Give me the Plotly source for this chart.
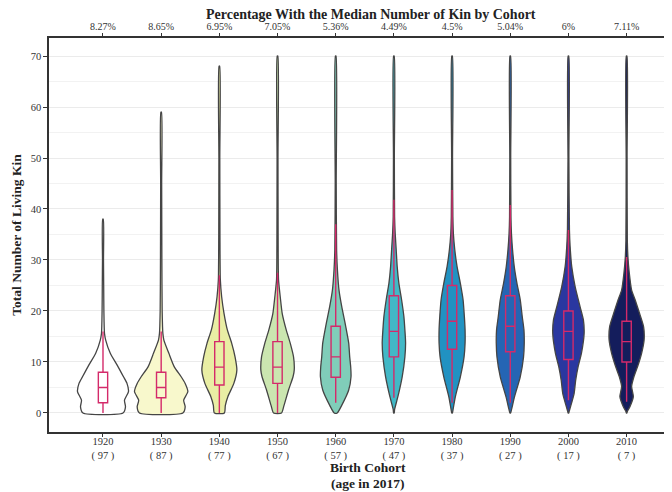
import plotly.graph_objects as go

# ---------------- data ----------------
cohorts = ["1920", "1930", "1940", "1950", "1960", "1970", "1980", "1990", "2000", "2010"]
ages = ["97", "87", "77", "67", "57", "47", "37", "27", "17", "7"]
pct_median = ["8.27%", "8.65%", "6.95%", "7.05%", "5.36%", "4.49%", "4.5%", "5.04%", "6%", "7.11%"]

# box statistics (number of living kin)
q1 = [2, 3, 5.5, 5.8, 7, 11, 12.5, 12, 10.5, 10]
median = [5, 5, 9, 9, 11, 16, 18, 17, 16, 14]
q3 = [8, 8, 14, 14, 17, 23, 25, 23, 20, 18]
lower_w = [0, 0, 0, 0, 2, 3, 2, 2, 2.5, 2.2]
upper_w = [16, 16, 27, 27.5, 37, 41.8, 43.7, 40.8, 35.9, 30.6]

# violin density profiles: kin levels and relative density (half width)
dens_y_1920 = [0, 1.2, 2.5, 4.2, 5.8, 7.1, 9.1, 11.7, 14.3, 15.6, 20, 25, 30, 38]
dens_w_1920 = [20, 22.5, 21.5, 25.5, 24, 20.5, 15, 7.3, 2.7, 1.5, 0.9, 0.7, 0.5, 0.3]
dens_y_1930 = [0, 1.2, 2.5, 4.2, 5.8, 7.1, 9.1, 11.7, 14.3, 15.6, 20, 30, 45, 59]
dens_w_1930 = [21.7, 24, 22.5, 26.7, 24, 20, 13, 7.7, 2.7, 1.7, 1.0, 0.7, 0.5, 0.3]
dens_y_1940 = [0, 1.5, 3.2, 5.8, 8.4, 11.0, 13.7, 16.3, 19.5, 22.8, 26.1, 35, 50, 68]
dens_w_1940 = [5, 6, 8.5, 14.5, 17.5, 15.7, 12.3, 8, 4.7, 2.3, 1.0, 0.6, 0.45, 0.3]
dens_y_1950 = [0, 1.5, 4.5, 7.1, 8.4, 11.0, 13.7, 16.3, 19.5, 22.8, 26.1, 35, 50, 70]
dens_w_1950 = [4, 6.5, 11, 15.5, 16.7, 16, 12.7, 8.7, 4.7, 2.7, 1.0, 0.6, 0.45, 0.3]
dens_y_1960 = [0, 1.5, 4.5, 7.1, 9.0, 11.0, 13.7, 17.0, 20.9, 24.1, 28.1, 32, 45, 70]
dens_w_1960 = [1.5, 6, 13, 15.3, 15, 14, 13, 10, 6, 3.3, 1.7, 0.9, 0.5, 0.3]
dens_y_1970 = [0, 0.7, 3.2, 7.1, 11.0, 13.7, 16.3, 18.9, 22.2, 25.4, 28.7, 32, 35.2, 38.5, 50, 70]
dens_w_1970 = [0.3, 0.7, 4, 8.3, 11, 11.7, 11, 10, 7.7, 5, 3.3, 2.3, 1.3, 0.7, 0.45, 0.3]
dens_y_1980 = [0, 0.7, 3.2, 7.1, 11.0, 13.7, 16.3, 18.9, 22.2, 25.4, 28.7, 32, 35.2, 38.5, 50, 70]
dens_w_1980 = [0.3, 1, 3.3, 8.3, 12, 13, 13, 12.3, 11, 8.3, 5, 2.7, 1.3, 0.8, 0.45, 0.3]
dens_y_1990 = [0, 0.7, 3.2, 7.1, 11.0, 13.7, 16.3, 18.9, 22.2, 25.4, 28.7, 32, 35.2, 38.5, 50, 70]
dens_w_1990 = [0.3, 1.3, 4.3, 10, 13.3, 14, 13.7, 12, 10, 6.7, 4, 2.3, 1.2, 0.7, 0.45, 0.3]
dens_y_2000 = [0, 0.3, 2.55, 3.86, 6.5, 9.1, 11.7, 15.6, 18.2, 20.8, 24.8, 28.7, 32.6, 35.9, 50, 70]
dens_w_2000 = [0.3, 0.7, 4, 5.7, 7.3, 9.7, 13, 15.7, 15, 11.7, 6.7, 3.3, 1.7, 1.0, 0.45, 0.3]
dens_y_2010 = [0, 0.3, 1.24, 3.2, 5.2, 7.1, 9.1, 11.7, 14.3, 16.9, 19.5, 22.2, 24.1, 27.4, 30.6, 33.9, 50, 70]
dens_w_2010 = [0.3, 0.7, 3.3, 6.7, 5, 7.3, 11, 15, 17.5, 17, 13, 8.5, 5, 2.7, 1.3, 0.7, 0.45, 0.3]

dens_y = [dens_y_1920, dens_y_1930, dens_y_1940, dens_y_1950, dens_y_1960,
          dens_y_1970, dens_y_1980, dens_y_1990, dens_y_2000, dens_y_2010]
dens_w = [dens_w_1920, dens_w_1930, dens_w_1940, dens_w_1950, dens_w_1960,
          dens_w_1970, dens_w_1980, dens_w_1990, dens_w_2000, dens_w_2010]

# ---------------- style ----------------
FILL = ["#ffffff", "#f8f8cc", "#e9eea4", "#cbe6b0", "#80cdb9",
        "#42b8c6", "#2192c2", "#2565b4", "#2a37a0", "#141d5c"]
DENS_SCALE = 1 / 58.2
OUTLINE = "#454545"
BOXC = "#d42a6a"
FONT = "Liberation Serif"

fig = go.Figure()

for i, c in enumerate(cohorts):
    ys = dens_y[i]
    ws = [w * DENS_SCALE for w in dens_w[i]]
    xs = [i + w for w in ws] + [i - w for w in reversed(ws)]
    yy = ys + list(reversed(ys))
    xs.append(xs[0])
    yy.append(yy[0])
    fig.add_trace(go.Scatter(
        x=xs, y=yy, mode="lines", fill="toself", fillcolor=FILL[i],
        line=dict(color=OUTLINE, width=1.3, shape="spline", smoothing=0.6),
        showlegend=False, hoverinfo="skip"))

# boxes on the overlaying (top) x axis so they draw above the violins
for i, c in enumerate(cohorts):
    fig.add_trace(go.Box(
        x=[i], q1=[q1[i]], median=[median[i]], q3=[q3[i]],
        lowerfence=[lower_w[i]], upperfence=[upper_w[i]],
        orientation="v", width=0.16, whiskerwidth=0, xaxis="x2",
        fillcolor="rgba(0,0,0,0)", line=dict(color=BOXC, width=1.4),
        boxpoints=False, showlegend=False, hoverinfo="skip"))

xrange = [-0.928, 9.78]
ticktext_bottom = [f"{c}<br>( {a} )" for c, a in zip(cohorts, ages)]

fig.update_layout(
    width=664, height=484,
    margin=dict(l=41, r=0, t=30, b=60),
    paper_bgcolor="white", plot_bgcolor="white",
    font=dict(family=FONT, color="#222", size=11),
    xaxis=dict(
        range=xrange, tickmode="array", tickvals=list(range(len(cohorts))),
        ticktext=ticktext_bottom, ticks="outside", ticklen=3, tickcolor="#333",
        showline=True, linecolor="#333", linewidth=1.5, showgrid=False, zeroline=False,
        automargin=False, ticklabelstandoff=-4,
        tickfont=dict(size=10.5, family=FONT, color="#333"),
    ),
    xaxis2=dict(
        range=xrange, overlaying="x", side="top", anchor="y", automargin=False,
        tickmode="array", tickvals=list(range(len(cohorts))), ticktext=pct_median,
        ticks="outside", ticklen=3, tickcolor="#333", ticklabelstandoff=-1,
        showline=True, linecolor="#333", linewidth=1.5, showgrid=False, zeroline=False,
        tickfont=dict(size=10, family=FONT, color="#333"),
    ),
    yaxis=dict(
        range=[-3.73, 73.53], tickmode="array", tickvals=[0, 10, 20, 30, 40, 50, 60, 70],
        ticks="outside", ticklen=4, tickcolor="#333", automargin=False,
        showline=True, linecolor="#333", linewidth=1.5, zeroline=False,
        showgrid=True, gridcolor="#ebebeb", gridwidth=1,
        minor=dict(tickvals=[5, 15, 25, 35, 45, 55, 65], showgrid=True, gridcolor="#f2f2f2", gridwidth=1),
        tickfont=dict(size=10.5, family=FONT, color="#333"),
        title=dict(text="<b>Total Number of Living Kin</b>",
                   font=dict(size=13.5, family=FONT, color="#222"), standoff=6),
    ),
    annotations=[
        dict(text="<b>Percentage With the Median Number of Kin by Cohort</b>",
             xref="x", yref="paper", x=4.6, y=1, yshift=24, yanchor="middle",
             showarrow=False, font=dict(size=14, family=FONT, color="#222")),
        dict(text="<b>Birth Cohort</b>",
             xref="x", yref="paper", x=4.55, y=0, yshift=-35, yanchor="middle",
             showarrow=False, font=dict(size=13.5, family=FONT, color="#222")),
        dict(text="<b>(age in 2017)</b>",
             xref="x", yref="paper", x=4.55, y=0, yshift=-51, yanchor="middle",
             showarrow=False, font=dict(size=13.5, family=FONT, color="#222")),
    ],
)

fig.write_html("out.html")
